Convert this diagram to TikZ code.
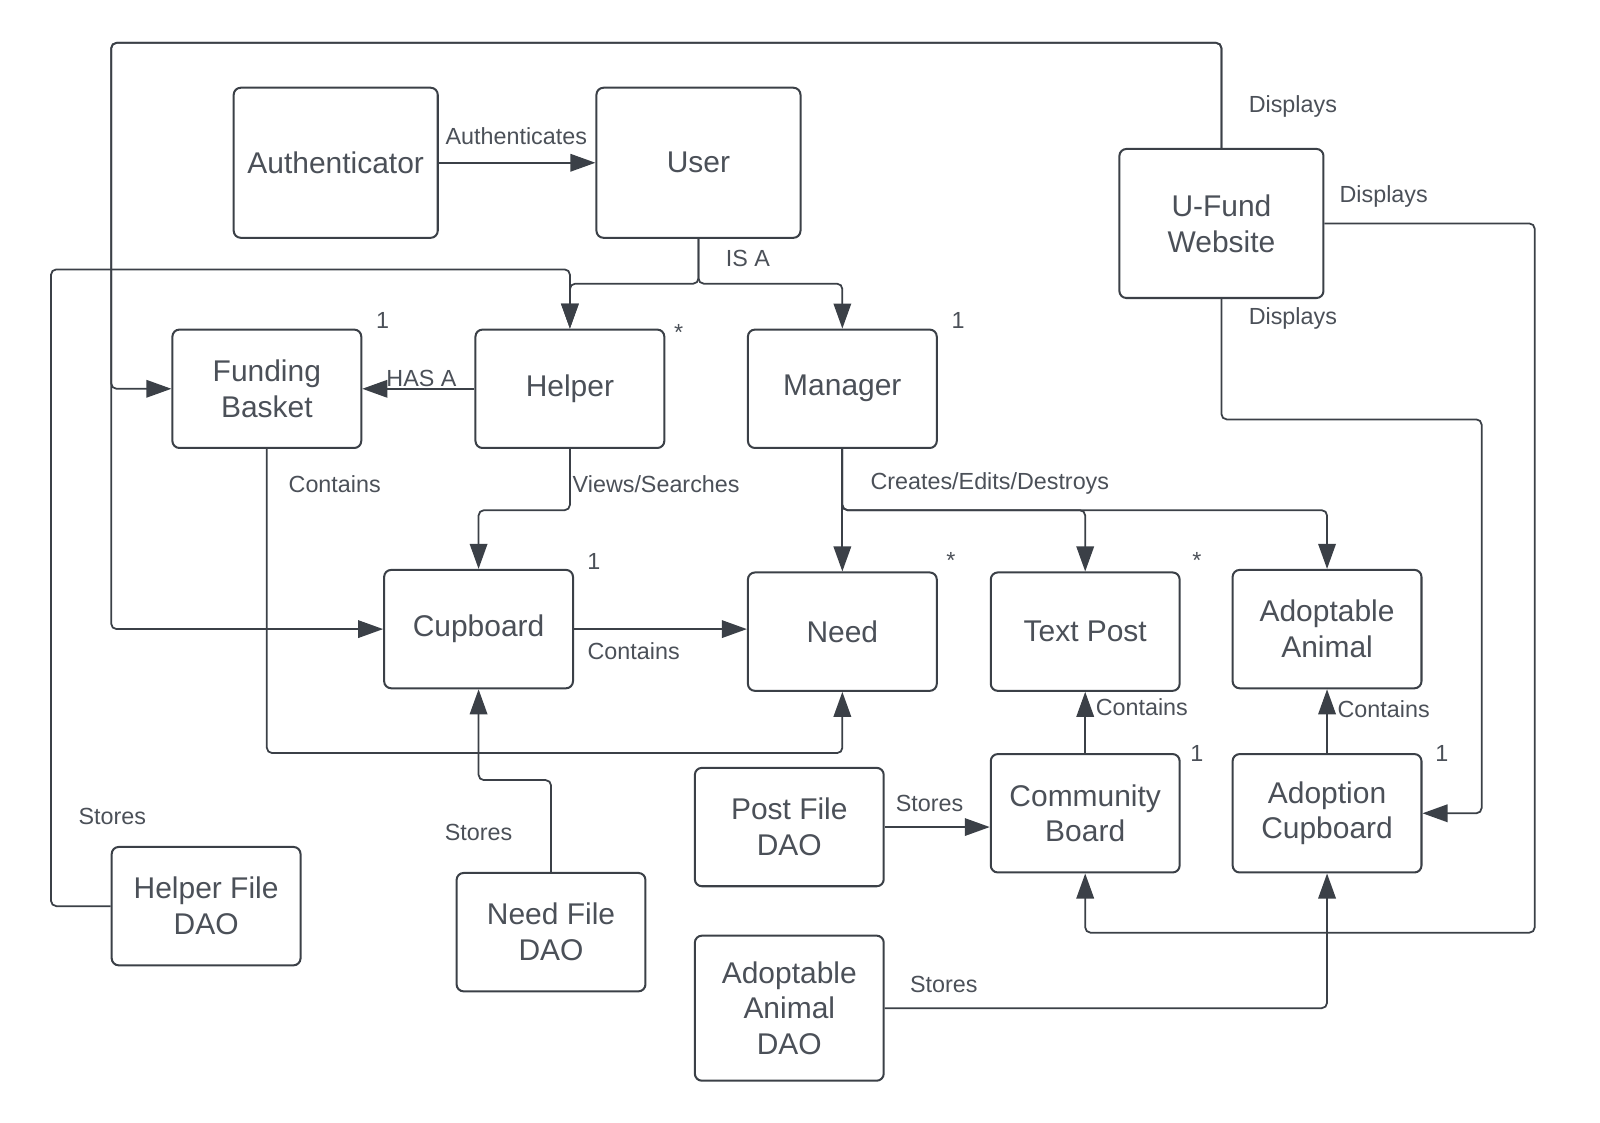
\documentclass[tikz,border=0pt]{standalone}
\usepackage{fontspec}
\setmainfont{Liberation Sans}
\usetikzlibrary{arrows.meta}
\definecolor{linec}{HTML}{3B4047}
\definecolor{textc}{HTML}{4B5058}
\tikzset{
  box/.style={draw=linec, line width=1.15pt, rounded corners=4pt, minimum width=3.776cm,
    minimum height=2.367cm, inner sep=0pt, align=center, text=textc,
    font=\fontsize{17.04}{20.4}\selectfont},
  conn/.style={draw=linec, line width=1pt, rounded corners=3pt,
    -{Triangle[length=0.5cm,width=0.35cm]}},
  lbl/.style={text=textc, font=\fontsize{13.27}{15.3}\selectfont, inner sep=0pt},
}
\begin{document}
\begin{tikzpicture}[x=0.0204082cm, y=-0.0204082cm]
    \useasboundingbox (0,0) rectangle (1568,1099.56);

    % classes
    \node[box, minimum width=4.08cm, minimum height=3cm] (auth) at (329,159.5) {Authenticator};
    \node[box, minimum width=4.08cm, minimum height=3cm] (user) at (684.5,159.5) {User};
    \node[box, minimum width=4.08cm, minimum height=2.98cm] (web) at (1197,219) {U-Fund\\Website};
    \node[box] (basket) at (261.5,381) {Funding\\Basket};
    \node[box] (helper) at (558.5,381) {Helper};
    \node[box] (mgr) at (825.5,381) {Manager};
    \node[box] (cup) at (469,616.5) {Cupboard};
    \node[box] (need) at (825.5,619) {Need};
    \node[box] (text) at (1063.5,619) {Text Post};
    \node[box] (animal) at (1300.5,616.5) {Adoptable\\Animal};
    \node[box] (board) at (1063.5,797) {Community\\Board};
    \node[box] (adopt) at (1300.5,797) {Adoption\\Cupboard};
    \node[box] (postdao) at (773.5,810.5) {Post File\\DAO};
    \node[box] (helperdao) at (202,888) {Helper File\\DAO};
    \node[box] (needdao) at (540,913.5) {Need File\\DAO};
    \node[box, minimum height=2.9cm] (animaldao) at (773.5,988) {Adoptable\\Animal\\DAO};

    % bends
    \coordinate (topleft) at (109,42);
    \coordinate (farright) at (1504,914);
    \coordinate (webdown) at (1452,411);
    \coordinate (storeleft) at (50,264);

    % connectors
    \draw[conn] (auth) -- (user);
    \draw[conn] (user.south) -- ++(0,44) -| (helper.north);
    \draw[conn] (user.south) -- ++(0,44) -| (mgr.north);
    \draw[conn] (helper.west) -- (basket.east);
    \draw[conn] (helper.south) -- ++(0,60) -| (cup.north);
    \draw[conn] (mgr.south) -- (need.north);
    \draw[conn] (mgr.south) -- ++(0,60) -| (text.north);
    \draw[conn] (mgr.south) -- ++(0,60) -| (animal.north);
    \draw[conn] (basket.south) -- ++(0,298) -| (need.south);
    \draw[conn] (cup.east) -- (cup.east -| need.west);
    \draw[conn] (web.north) |- (topleft) |- (basket.west);
    \draw[conn] (web.north) |- (topleft) |- (cup.west);
    \draw[conn] (web.east) -| (farright) -| (board.south);
    \draw[conn] (web.south) |- (webdown) |- (adopt.east);
    \draw[conn] (board.north) -- (text.south);
    \draw[conn] (adopt.north) -- (animal.south);
    \draw[conn] (postdao.east) -- (postdao.east -| board.west);
    \draw[conn] (animaldao.east) -| (adopt.south);
    \draw[conn] (needdao.north) -- ++(0,-90) -| (cup.south);
    \draw[conn] (helperdao.west) -| (storeleft) -| (helper.north);

    % connector labels
    \node[lbl] (authlbl) at (506,133) {Authenticates};
    \node[lbl] (isalbl) at (733,253) {IS A};
    \node[lbl] (hasalbl) at (413,371) {HAS A};
    \node[lbl] (viewlbl) at (643,474) {Views/Searches};
    \node[lbl] (crudlbl) at (970,474) {Creates/Edits/Destroys};
    \node[lbl] (basketlbl) at (328,474) {Contains};
    \node[lbl] (cuplbl) at (621,638) {Contains};
    \node[lbl] (showtop) at (1267,104) {Displays};
    \node[lbl] (showright) at (1356,193) {Displays};
    \node[lbl] (showdown) at (1267,312) {Displays};
    \node[lbl] (boardlbl) at (1119,693) {Contains};
    \node[lbl] (adoptlbl) at (1356,695) {Contains};
    \node[lbl] (poststore) at (911,787) {Stores};
    \node[lbl] (animalstore) at (925,965) {Stores};
    \node[lbl] (needstore) at (469,816) {Stores};
    \node[lbl] (helperstore) at (110,800) {Stores};

    % multiplicities
    \node[lbl] (mbasket) at (375,314) {1};
    \node[lbl] (mhelper) at (665,326) {*};
    \node[lbl] (mmgr) at (939,314) {1};
    \node[lbl] (mcup) at (582,550) {1};
    \node[lbl] (mneed) at (932,549) {*};
    \node[lbl] (mtext) at (1173,549) {*};
    \node[lbl] (mboard) at (1173,738) {1};
    \node[lbl] (madopt) at (1413,738) {1};
\end{tikzpicture}
\end{document}
